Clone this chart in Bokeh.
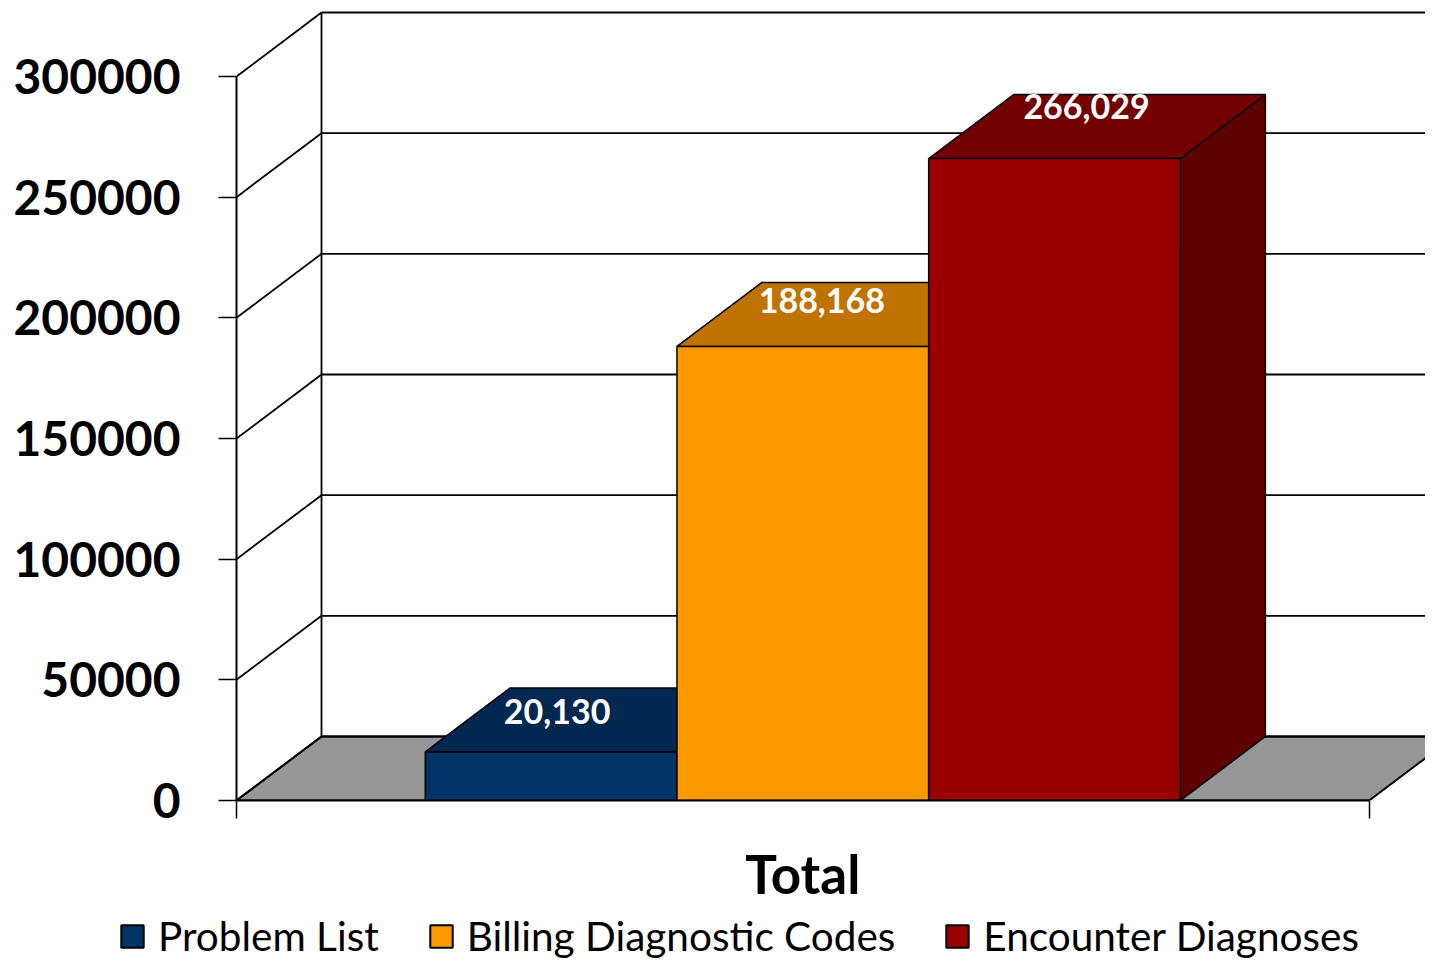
from bokeh.plotting import figure
from bokeh.layouts import column, row
from bokeh.models import (ColumnDataSource, Range1d, LinearAxis, FixedTicker,
                          NumeralTickFormatter, Legend, LegendItem)
from bokeh.core.properties import value
from bokeh.embed import file_html
from bokeh.resources import INLINE

# ---------------- data ----------------
categories = ["Total"]
series = ["Problem List", "Billing Diagnostic Codes", "Encounter Diagnoses"]
values = [20130, 188168, 266029]
value_labels = ["20,130", "188,168", "266,029"]
y_ticks = [0, 50000, 100000, 150000, 200000, 250000, 300000]

# ---------------- styles ----------------
front_colors = ["#003366", "#FF9900", "#990000"]
top_colors = ["#002850", "#C07300", "#730000"]
side_colors = ["#001F40", "#A05F00", "#5E0000"]
FLOOR_COLOR = "#969696"
FONT = "Lato"

# ---------------- geometry ----------------
W = 1425
H_CHART, H_LEGEND = 908, 52
FRAME_LEFT = 236
FRAME_BOTTOM = 800
BAR_W = 1.0
GAP = 0.75
FLOOR_W = 2 * GAP + BAR_W * len(series)
PX_X = 251.7                 # pixels per x unit
PX_Y = 724.0 / 300000.0      # pixels per y unit
DEPTH_X = 85 / PX_X
DEPTH_Y = 64 / PX_Y
X_END = (W - FRAME_LEFT) / PX_X
Y_END = FRAME_BOTTOM / PX_Y
Y_MAX = y_ticks[-1]

p = figure(width=W, height=H_CHART,
           x_range=Range1d(0, X_END), y_range=Range1d(0, Y_END),
           x_axis_type=None, y_axis_type=None,
           output_backend="svg", toolbar_location=None,
           min_border_left=FRAME_LEFT, min_border_right=0,
           min_border_top=0, min_border_bottom=H_CHART - FRAME_BOTTOM)
p.outline_line_color = None
p.background_fill_color = "white"
p.border_fill_color = "white"

# floor
p.patch([0, FLOOR_W, FLOOR_W + DEPTH_X, DEPTH_X], [0, 0, DEPTH_Y, DEPTH_Y],
        fill_color=FLOOR_COLOR, line_color="black", line_width=2)

# back wall gridlines and side wall diagonals
gx0, gx1, gy = [], [], []
for t in y_ticks:
    gx0.append(DEPTH_X); gx1.append(FLOOR_W + DEPTH_X); gy.append(t + DEPTH_Y)
p.segment(x0=gx0, y0=gy, x1=gx1, y1=gy, line_color="black", line_width=1.8)
p.segment(x0=[0] * len(y_ticks), y0=y_ticks, x1=[DEPTH_X] * len(y_ticks),
          y1=[t + DEPTH_Y for t in y_ticks], line_color="black", line_width=1.8)
p.segment(x0=[DEPTH_X], y0=[DEPTH_Y], x1=[DEPTH_X], y1=[Y_MAX + DEPTH_Y],
          line_color="black", line_width=1.8)

# bars
x_left = [GAP + i * BAR_W for i in range(len(series))]
x_right = [x + BAR_W for x in x_left]

side_xs, side_ys, top_xs, top_ys = [], [], [], []
for x0, x1, v in zip(x_left, x_right, values):
    side_xs.append([x1, x1 + DEPTH_X, x1 + DEPTH_X, x1])
    side_ys.append([0, DEPTH_Y, v + DEPTH_Y, v])
    top_xs.append([x0, x1, x1 + DEPTH_X, x0 + DEPTH_X])
    top_ys.append([v, v, v + DEPTH_Y, v + DEPTH_Y])

p.patches(side_xs, side_ys, fill_color=side_colors, line_color="black", line_width=1.5)
p.patches(top_xs, top_ys, fill_color=top_colors, line_color="black", line_width=1.5)

front_src = ColumnDataSource(dict(left=x_left, right=x_right,
                                  bottom=[0] * len(values), top=values,
                                  color=front_colors, name=series))
front_r = p.quad(left="left", right="right", bottom="bottom", top="top",
                 source=front_src, fill_color="color", line_color="black",
                 line_width=1.5)

# value labels on the top faces
lab_x = [(x0 + x1) / 2 + (6 + 13 * i) / PX_X for i, (x0, x1) in enumerate(zip(x_left, x_right))]
lab_y = [v + (40.5 + 5.5 * i) / PX_Y for i, v in enumerate(values)]
p.text(x=lab_x, y=lab_y, text=value_labels, text_color="white",
       text_font=value(FONT), text_font_style="bold", text_font_size="34px",
       text_align="center", text_baseline="middle")

# y axis
yaxis = LinearAxis(ticker=FixedTicker(ticks=y_ticks, minor_ticks=[]),
                   formatter=NumeralTickFormatter(format="0"),
                   bounds=(0, Y_MAX))
yaxis.axis_line_width = 2
yaxis.axis_line_color = "black"
yaxis.major_tick_out = 18
yaxis.major_tick_in = 0
yaxis.major_tick_line_width = 1.5
yaxis.minor_tick_out = 0
yaxis.minor_tick_in = 0
yaxis.major_label_standoff = 38
yaxis.major_label_text_font = FONT
yaxis.major_label_text_font_style = "bold"
yaxis.major_label_text_font_size = "48px"
yaxis.major_label_text_color = "black"
p.add_layout(yaxis, "left")

# x axis
center = FLOOR_W / 2
xaxis = LinearAxis(ticker=FixedTicker(ticks=[center], minor_ticks=[0, FLOOR_W]),
                   major_label_overrides={center: categories[0]},
                   bounds=(0, FLOOR_W))
xaxis.axis_line_width = 2
xaxis.axis_line_color = "black"
xaxis.major_tick_out = 0
xaxis.major_tick_in = 0
xaxis.minor_tick_out = 18
xaxis.minor_tick_in = 0
xaxis.minor_tick_line_width = 1.5
xaxis.major_label_standoff = 23
xaxis.major_label_text_font = FONT
xaxis.major_label_text_font_style = "bold"
xaxis.major_label_text_font_size = "53px"
xaxis.major_label_text_color = "black"
p.add_layout(xaxis, "below")

# ---------------- legend strip ----------------
lg = figure(width=W, height=H_LEGEND, x_range=Range1d(0, 1), y_range=Range1d(0, 1),
            x_axis_type=None, y_axis_type=None,
            output_backend="svg", toolbar_location=None,
            min_border_left=0, min_border_right=0, min_border_top=0, min_border_bottom=0)
lg.outline_line_color = None
lg.background_fill_color = "white"
lg.border_fill_color = "white"
key_r = lg.quad(left="left", right="right", bottom="bottom", top="top",
                source=front_src, fill_color="color", line_color="black",
                line_width=2, visible=False)
legend = Legend(items=[LegendItem(label=s, renderers=[key_r], index=i)
                       for i, s in enumerate(series)],
                location=(118, 0), orientation="horizontal",
                glyph_width=28, glyph_height=28, label_standoff=12, spacing=48,
                padding=0, margin=0, border_line_color=None,
                background_fill_alpha=0,
                label_text_font=FONT, label_text_font_size="40.5px",
                label_text_color="black")
lg.add_layout(legend)

layout = column(p, row(lg, spacing=0), spacing=0)
open("out.html", "w").write(file_html(layout, INLINE))
